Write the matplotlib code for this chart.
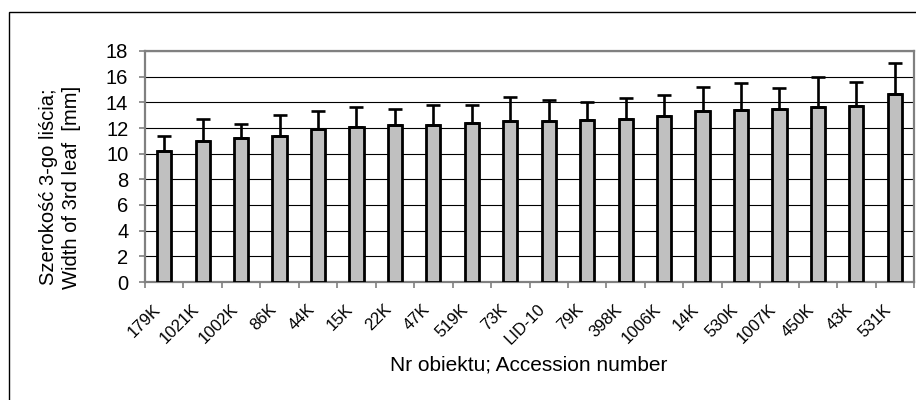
import matplotlib.pyplot as plt
from matplotlib.patches import Rectangle
from matplotlib.transforms import ScaledTranslation

plt.rcParams['font.family'] = ['Liberation Sans', 'DejaVu Sans']

accessions = ["179K", "1021K", "1002K", "86K", "44K", "15K", "22K", "47K", "519K", "73K",
              "LID-10", "79K", "398K", "1006K", "14K", "530K", "1007K", "450K", "43K", "531K"]
leaf_width = [10.2, 11.0, 11.2, 11.35, 11.95, 12.05, 12.2, 12.25, 12.4, 12.55,
              12.55, 12.65, 12.7, 12.95, 13.35, 13.4, 13.5, 13.6, 13.7, 14.65]
leaf_sd = [1.15, 1.7, 1.1, 1.65, 1.4, 1.55, 1.3, 1.55, 1.4, 1.9,
           1.6, 1.4, 1.6, 1.65, 1.85, 2.1, 1.6, 2.4, 1.85, 2.45]

fig = plt.figure(figsize=(9.16, 4.0), dpi=100)
ax = fig.add_axes([145 / 916, 118 / 400, 769 / 916, 231 / 400])

# outer chart frame (runs off the right and bottom edges)
fig.patches.append(Rectangle((8.5 / 916, -0.1), 2, 1 - 12 / 400 + 0.1,
                             transform=fig.transFigure, fill=False,
                             edgecolor='black', linewidth=1.0))

x = range(len(accessions))
ax.bar(x, leaf_width, width=0.37, color='#c0c0c0', edgecolor='black',
       linewidth=2.0, zorder=3)
ax.errorbar(x, leaf_width, yerr=[[0] * len(leaf_sd), leaf_sd], fmt='none',
            ecolor='black', elinewidth=1.9, capsize=4.8, capthick=1.9, zorder=4)

ax.set_xlim(-0.5, len(accessions) - 0.5)
ax.set_ylim(0, 18)
ax.set_yticks(range(0, 19, 2))
ax.yaxis.grid(True, color='black', linewidth=0.8, zorder=0)

for s in ax.spines.values():
    s.set_color('#808080')
    s.set_linewidth(1.6)

ax.tick_params(axis='y', direction='out', length=4, width=1.2, color='#808080',
               labelsize=14.5, pad=8)
ax.set_xticks(list(x))
ax.set_xticklabels(accessions, rotation=45, ha='right', va='top',
                   rotation_mode='anchor', fontsize=12)
ax.tick_params(axis='x', which='major', length=0, pad=12)
ax.set_xticks([i - 0.5 for i in range(len(accessions) + 1)], minor=True)
ax.tick_params(axis='x', which='minor', direction='out', length=4, width=1.2,
               color='#808080')
shift = ScaledTranslation(-11 / 100, -3 / 100, fig.dpi_scale_trans)
for lbl in ax.get_xticklabels():
    lbl.set_transform(lbl.get_transform() + shift)

fig.text(60 / 916, 1 - 187 / 400, "Szerokość 3-go liścia;\nWidth of 3rd leaf  [mm]",
         rotation=90, ha='center', va='center', fontsize=14.5, linespacing=1.3)
fig.text(529 / 916, 1 - 365 / 400, "Nr obiektu; Accession number",
         ha='center', va='center', fontsize=15)

fig.savefig("out.png", dpi=100)
